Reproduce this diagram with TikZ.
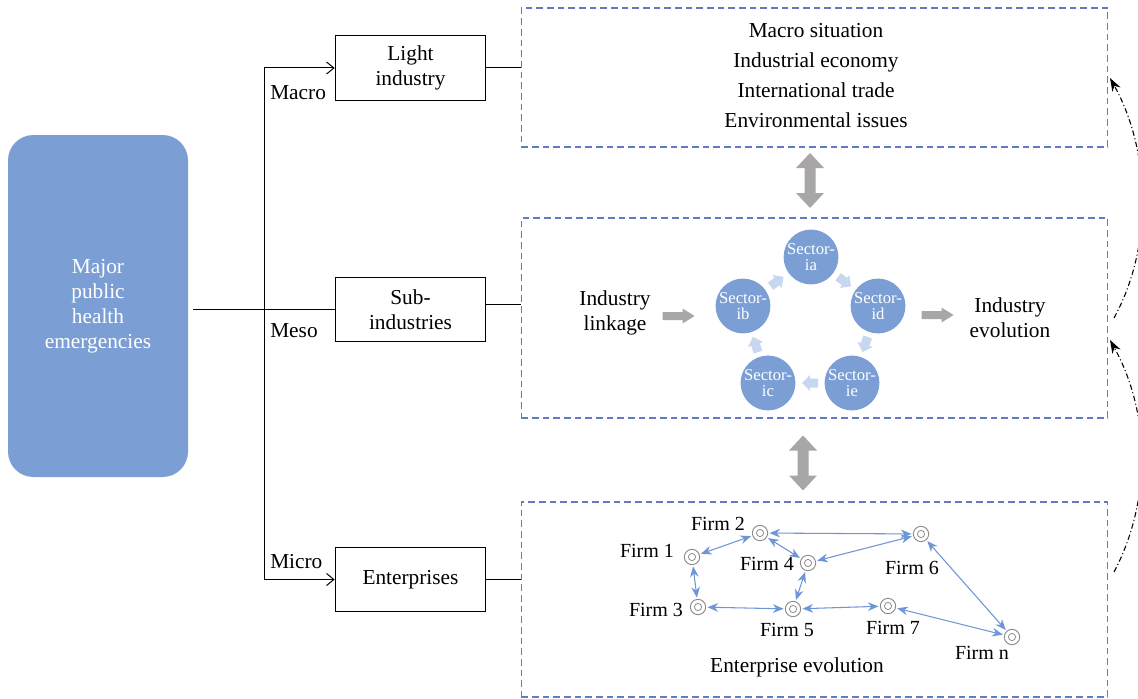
\documentclass[tikz,border=0pt]{standalone}
\usepackage{fontspec}
\setmainfont{Liberation Serif}
\usetikzlibrary{arrows.meta,calc}
\definecolor{mainblue}{RGB}{123,159,213}
\definecolor{dashblue}{RGB}{95,125,190}
\definecolor{garrow}{RGB}{168,166,166}
\definecolor{lblue}{RGB}{200,215,240}
\definecolor{fblue}{RGB}{110,150,215}
\definecolor{mkgray}{RGB}{140,140,140}
\tikzset{
  box/.style={draw, line width=0.75pt, minimum width=113pt, minimum height=48pt, align=center, inner sep=0pt},
  dbox/.style={draw=dashblue, line width=0.9pt, dash pattern=on 5pt off 3pt, minimum width=440pt, inner sep=0pt},
  sector/.style={circle, fill=mainblue, minimum size=40.5pt, inner sep=0pt, text=white, font=\fontsize{12.5}{12}\selectfont, align=center},
  firm/.style={circle, draw=mkgray, line width=0.7pt, minimum size=11.5pt, inner sep=0pt,
    path picture={\draw[mkgray, line width=0.6pt] (path picture bounding box.center) circle (2.7pt);}},
  flabel/.style={inner sep=0pt, font=\fontsize{15}{18}\selectfont},
  farrow/.style={fblue, line width=0.8pt, {Stealth[length=8pt,width=6.5pt]}-{Stealth[length=8pt,width=6.5pt]}, shorten <=1pt, shorten >=1pt},
  conn/.style={line width=0.75pt},
  barb/.style={conn, -{Straight Barb[length=5.5pt,width=9pt]}},
  ddarrow/.style={line width=0.8pt, dash pattern=on 4pt off 2pt on 0.8pt off 2pt, -{Stealth[length=10pt,width=7pt]}},
  txt/.style={inner sep=0pt, align=center},
  pics/rarrow/.style={code={\fill[garrow] (-16,-4) -- (4,-4) -- (4,-7.5) -- (16,0) -- (4,7.5) -- (4,4) -- (-16,4) -- cycle;}},
  pics/vdarrow/.style={code={\fill[garrow] (0,-27.5) -- (14,-12.5) -- (5.5,-12.5) -- (5.5,12.5) -- (14,12.5) -- (0,27.5) -- (-14,12.5) -- (-5.5,12.5) -- (-5.5,-12.5) -- (-14,-12.5) -- cycle;}},
  pics/sarrow/.style={code={\fill[lblue] (-8,-4.5) -- (0,-4.5) -- (0,-8) -- (8,0) -- (0,8) -- (0,4.5) -- (-8,4.5) -- cycle;}}
}
\begin{document}
\begin{tikzpicture}[x=0.75pt,y=-0.75pt,font=\fontsize{16}{18.75}\selectfont]
\path[use as bounding box] (0,0) rectangle (1138,699);
\clip (0,0) rectangle (1138,699);

% left big box
\node[fill=mainblue, rounded corners=19pt, minimum width=135pt, minimum height=256.5pt, text=white, align=center, inner sep=0pt] (major) at (98,306) {Major\\public\\health\\emergencies};

% level boxes
\node[box] (light) at (410.5,68) {Light\\industry};
\node[box] (sub) at (410.5,309.5) {Sub-\\industries};
\node[box] (ent) at (410.5,579.5) {Enterprises};

\node[anchor=west, inner sep=0pt] (lmacro) at (270,93) {Macro};
\node[anchor=west, inner sep=0pt] (lmeso) at (270,331) {Meso};
\node[anchor=west, inner sep=0pt] (lmicro) at (270,562) {Micro};

% dashed boxes
\node[dbox, minimum height=104.25pt] (top) at (814.5,77.5) {};
\node[dbox, minimum height=150pt] (mid) at (814.5,318) {};
\node[dbox, minimum height=146.25pt] (bot) at (814.5,599.5) {};

% connectors
\coordinate (jt) at (264,68);
\coordinate (jb) at (264,579.5);
\draw[conn] ($(major.east |- sub.west)+(5,0)$) -- (sub.west);
\draw[conn] (jt) -- (jb);
\draw[barb] (jt) -- (light.west);
\draw[barb] (jb) -- (ent.west);
\draw[conn] (light.east) -- (light.east -| top.west);
\draw[conn] ([yshift=3.75pt]sub.east) -- ([yshift=3.75pt]sub.east -| mid.west);
\draw[conn] (ent.east) -- (ent.east -| bot.west);

% top box text
\node[txt, font=\fontsize{16}{22.5}\selectfont] (toptext) at (816,76) {Macro situation\\Industrial economy\\International trade\\Environmental issues};

% vertical double arrows
\pic at (810,180.5) {vdarrow};
\pic at (803,463) {vdarrow};

% middle content
\node[txt] (link) at (615,313) {Industry\\linkage};
\node[txt] (evo) at (1010,318) {Industry\\evolution};
\pic at (678.5,316) {rarrow};
\pic at (937.5,315) {rarrow};

\node[sector] (ia) at (811,257) {Sector-\\ia};
\node[sector] (id) at (878,306) {Sector-\\id};
\node[sector] (ie) at (852,383) {Sector-\\ie};
\node[sector] (ic) at (768,383) {Sector-\\ic};
\node[sector] (ib) at (743,306) {Sector-\\ib};
\pic[rotate=-36] at ($(ia)!0.5!(id)$) {sarrow};
\pic[rotate=-109] at ($(id)!0.5!(ie)$) {sarrow};
\pic[rotate=180] at ($(ie)!0.5!(ic)$) {sarrow};
\pic[rotate=108] at ($(ic)!0.5!(ib)$) {sarrow};
\pic[rotate=36] at ($(ib)!0.5!(ia)$) {sarrow};

% firms
\node[firm] (f1) at (692,557) {};
\node[firm] (f2) at (760,533) {};
\node[firm] (f4) at (808,563) {};
\node[firm] (f6) at (921,534) {};
\node[firm] (f3) at (698,607) {};
\node[firm] (f5) at (793,609) {};
\node[firm] (f7) at (888,606) {};
\node[firm] (fn) at (1012,637) {};

\node[flabel] (l1) at (647,551) {Firm 1};
\node[flabel] (l2) at (718,524) {Firm 2};
\node[flabel] (l4) at (767,564) {Firm 4};
\node[flabel] (l6) at (912,568) {Firm 6};
\node[flabel] (l3) at (656,610) {Firm 3};
\node[flabel] (l5) at (787,630) {Firm 5};
\node[flabel] (l7) at (893,628) {Firm 7};
\node[flabel] (ln) at (982,653) {Firm n};
\node[txt] (eevo) at (797,667) {Enterprise evolution};

\draw[farrow] (f1) -- (f2);
\draw[farrow] (f2) -- (f6);
\draw[farrow] (f2) -- (f4);
\draw[farrow] (f4) -- (f6);
\draw[farrow] (f1) -- (f3);
\draw[farrow] (f4) -- (f5);
\draw[farrow] (f3) -- (f5);
\draw[farrow] (f5) -- (f7);
\draw[farrow] (f7) -- (fn);
\draw[farrow] (f6) -- (fn);

% dash-dot feedback curves
\coordinate (c1s) at (1114,572);
\coordinate (c1e) at (1110,340);
\coordinate (c2s) at (1114,318);
\coordinate (c2e) at (1110,78);
\draw[ddarrow] (c1s) .. controls (1152,500) and (1150,412) .. (c1e);
\draw[ddarrow] (c2s) .. controls (1154,245) and (1150,150) .. (c2e);
\end{tikzpicture}
\end{document}
